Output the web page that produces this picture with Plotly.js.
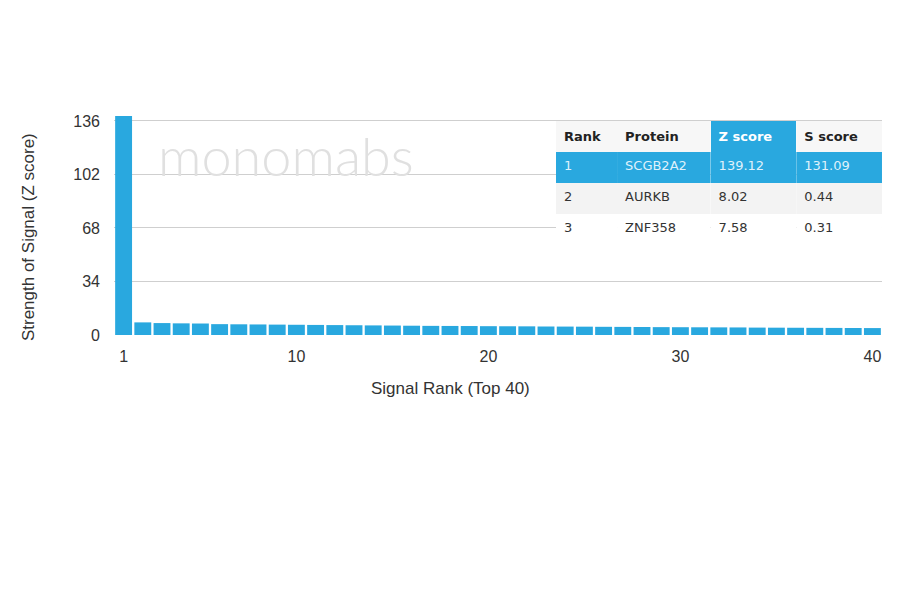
<!DOCTYPE html>
<html>
<head>
<meta charset="utf-8">
<script src="https://cdn.plot.ly/plotly-3.0.1.min.js"></script>
<style>html,body{margin:0;padding:0;background:#fff;}#chart{width:900px;height:594px;}</style>
</head>
<body>
<div id="chart"></div>
<script>
// Signal ranks and Z scores
const ranks = Array.from({length: 40}, (_, i) => i + 1);
const zScores = [139.12, 8.02, 7.58, 7.4, 7.3, 6.9, 6.8, 6.7, 6.6, 6.5,
  6.4, 6.3, 6.2, 6.1, 6.0, 5.9, 5.8, 5.75, 5.7, 5.6,
  5.55, 5.5, 5.4, 5.35, 5.3, 5.2, 5.15, 5.1, 5.0, 4.95,
  4.9, 4.85, 4.8, 4.7, 4.65, 4.6, 4.55, 4.5, 4.45, 4.4];
const yTicks = [0, 34, 68, 102, 136];
const xTicks = [1, 10, 20, 30, 40];
const xTitle = "Signal Rank (Top 40)";
const yTitle = "Strength of Signal (Z score)";

// Table data
const tableHeader = ["Rank", "Protein", "Z score", "S score"];
const tableRank = ["1", "2", "3"];
const tableProtein = ["SCGB2A2", "AURKB", "ZNF358"];
const tableZ = ["139.12", "8.02", "7.58"];
const tableS = ["131.09", "0.44", "0.31"];

const blue = "#29a8df";
const rowFills = [blue, "#f3f3f3", "#ffffff"];
const rowFontColors = ["#dff1fb", "#333333", "#333333"];

const bar = {
  type: "bar",
  x: ranks,
  y: zScores,
  marker: {color: blue, line: {width: 0}},
  width: 0.88,
  hoverinfo: "x+y",
  xaxis: "x", yaxis: "y"
};

const table = {
  type: "table",
  domain: {x: [0.5755, 1.0], y: [0.40, 0.978]},
  columnwidth: [62, 95, 87, 87],
  header: {
    values: tableHeader.map(h => "<b>" + h + "</b>"),
    align: "left",
    height: 31,
    fill: {color: ["#f7f7f7", "#f7f7f7", blue, "#f7f7f7"]},
    line: {width: 0, color: "rgba(0,0,0,0)"},
    font: {family: "DejaVu Sans", size: 13, color: ["#222222", "#222222", "#ffffff", "#222222"]}
  },
  cells: {
    values: [tableRank, tableProtein, tableZ, tableS],
    align: "left",
    height: 31,
    fill: {color: [rowFills, rowFills, rowFills, rowFills]},
    line: {width: 0, color: "rgba(0,0,0,0)"},
    font: {family: "DejaVu Sans", size: 13, color: [rowFontColors, rowFontColors, rowFontColors, rowFontColors]}
  }
};

const layout = {
  width: 900, height: 594,
  margin: {l: 114, r: 18, t: 116, b: 259, pad: 0},
  paper_bgcolor: "#ffffff",
  plot_bgcolor: "#ffffff",
  showlegend: false,
  bargap: 0.1,
  font: {family: "Liberation Sans, Arial, sans-serif", size: 16, color: "#333333"},
  xaxis: {
    range: [0.5, 40.5],
    tickvals: xTicks,
    ticktext: xTicks.map(String),
    showgrid: false, zeroline: false, showline: false,
    ticks: "", ticklen: 0,
    ticklabelstandoff: 10,
    tickfont: {size: 16, color: "#333333"}
  },
  yaxis: {
    range: [0, 139.12],
    tickvals: yTicks,
    ticktext: yTicks.map(String),
    showgrid: true, gridcolor: "#cfcfcf", gridwidth: 1,
    zeroline: false, showline: false,
    ticks: "", ticklen: 0,
    ticklabelstandoff: 13,
    tickfont: {size: 16, color: "#333333"}
  },
  annotations: [
    {
      xref: "paper", yref: "paper",
      x: 0.055, y: 0.82, xanchor: "left", yanchor: "middle",
      text: "monomabs",
      showarrow: false,
      font: {family: "Lato, Open Sans, sans-serif", size: 54, color: "#e0e0e0", weight: 300}
    },
    {
      xref: "paper", yref: "paper",
      x: 0.4375, y: -0.244, xanchor: "center", yanchor: "middle",
      text: xTitle, showarrow: false,
      font: {size: 17, color: "#333333"}
    },
    {
      xref: "paper", yref: "paper",
      x: -0.1120, y: 0.447, xanchor: "center", yanchor: "middle",
      text: yTitle, showarrow: false, textangle: -90,
      font: {size: 17, color: "#333333"}
    }
  ]
};

Plotly.newPlot("chart", [bar, table], layout, {displayModeBar: false, staticPlot: true});
</script>
</body>
</html>
